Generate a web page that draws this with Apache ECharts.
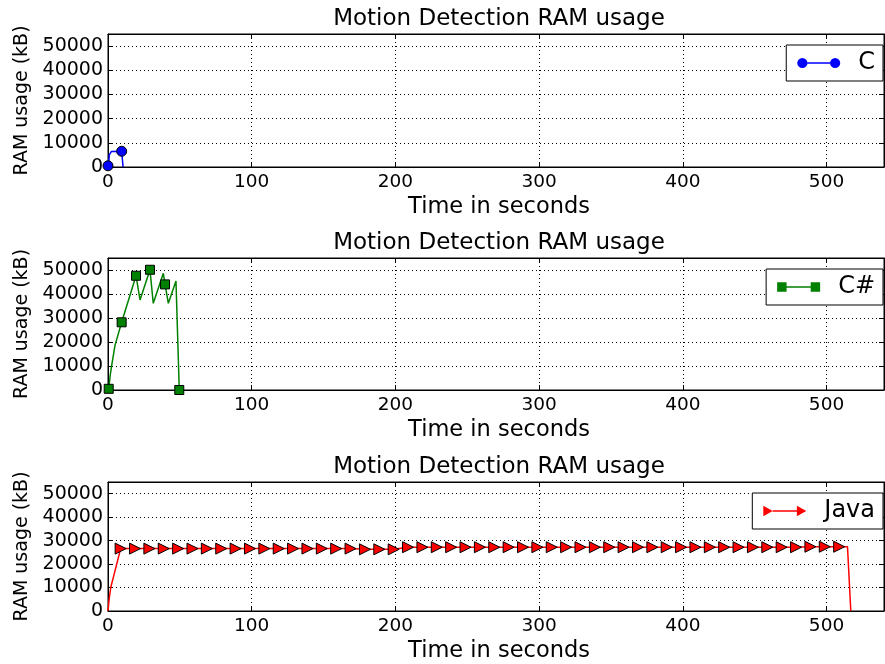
<!DOCTYPE html>
<html>
<head>
<meta charset="utf-8">
<script src="https://cdn.jsdelivr.net/npm/echarts@6/dist/echarts.min.js"></script>
<style>
html,body{margin:0;padding:0;background:#fff;}
#chart{width:885px;height:664px;}
</style>
</head>
<body>
<div id="chart"></div>
<script>
// ---- Data ----
const chartTitle = 'Motion Detection RAM usage';
const xLabel = 'Time in seconds';
const yLabel = 'RAM usage (kB)';

// C
const cTime = [0, 0.5, 0.9, 2.3, 9.5, 10.5];
const cRam  = [500, 1500, 5000, 6400, 6500, 0];
const cMarkTime = [0, 9.5];
const cMarkRam  = [500, 6500];

// C#
const csTime = [0.5, 1.5, 2.6, 4.9, 9.5, 19.5, 22.3, 29.2, 31.5, 38.5, 39.7, 42, 47.3, 49.6];
const csRam  = [500, 6000, 10400, 18700, 28200, 47600, 37500, 50100, 36100, 48600, 44000, 36100, 45400, 0];
const csMarkTime = [0.5, 9.5, 19.5, 29.2, 39.7, 49.6];
const csMarkRam  = [500, 28200, 47600, 50100, 44000, 0];

// Java
const javaRampTime = [0, 0.8, 1.9, 4.2];
const javaRampRam  = [0, 5000, 10000, 15500];
const javaMarkTime = [8.8, 18.8, 28.8, 38.8, 48.8, 58.8, 68.8, 78.8, 88.8, 98.8,
  108.8, 118.8, 128.8, 138.8, 148.8, 158.8, 168.8, 178.8, 188.8, 198.8,
  208.8, 218.8, 228.8, 238.8, 248.8, 258.8, 268.8, 278.8, 288.8, 298.8,
  308.8, 318.8, 328.8, 338.8, 348.8, 358.8, 368.8, 378.8, 388.8, 398.8,
  408.8, 418.8, 428.8, 438.8, 448.8, 458.8, 468.8, 478.8, 488.8, 498.8, 508.8];
const javaMarkRam = [26600, 26600, 26600, 26600, 26600, 26600, 26600, 26600, 26600, 26600,
  26600, 26600, 26600, 26600, 26600, 26600, 26600, 26300, 26300, 26300,
  27200, 27200, 27200, 27200, 27200, 27200, 27200, 27200, 27200, 27200,
  27200, 27200, 27200, 27200, 27200, 27200, 27200, 27200, 27200, 27200,
  27200, 27200, 27200, 27200, 27200, 27200, 27200, 27200, 27400, 27400, 27400];
const javaTailTime = [514.6, 516.9];
const javaTailRam  = [27400, 0];

const xMin = 0, xMax = 540, xStep = 100;
const yMin = 0, yMax = 55000, yStep = 10000;

// ---- helpers ----
function pairs(t, v) { return t.map((x, i) => [x, v[i]]); }
const FONT = 'DejaVu Sans';

const panels = [
  { name: 'C', color: '#0000ff', symbol: 'circle', size: 10, rotate: 0,
    line: pairs(cTime, cRam), marks: pairs(cMarkTime, cMarkRam),
    icon: 'path://M1,6 A5,5 0 1,1 11,6 A5,5 0 1,1 1,6 Z M11,5.3 L33,5.3 L33,6.7 L11,6.7 Z M33,6 A5,5 0 1,1 43,6 A5,5 0 1,1 33,6 Z' },
  { name: 'C#', color: '#008000', symbol: 'rect', size: 9, rotate: 0,
    line: pairs(csTime, csRam), marks: pairs(csMarkTime, csMarkRam),
    icon: 'path://M0.5,0.5 L9.5,0.5 L9.5,9.5 L0.5,9.5 Z M9.5,4.4 L32.5,4.4 L32.5,5.6 L9.5,5.6 Z M32.5,0.5 L41.5,0.5 L41.5,9.5 L32.5,9.5 Z' },
  { name: 'Java', color: '#ff0000', symbol: 'triangle', size: 11, rotate: -90,
    line: pairs(javaRampTime.concat(javaMarkTime, javaTailTime), javaRampRam.concat(javaMarkRam, javaTailRam)),
    marks: pairs(javaMarkTime, javaMarkRam),
    icon: 'path://M1,0 L10,5 L1,10 Z M10,4.4 L33,4.4 L33,5.6 L10,5.6 Z M33,0 L42,5 L33,10 Z' }
];

const tops = [34, 258, 482];
const heights = [133, 132, 132];

const grid = [], xAxis = [], yAxis = [], series = [], legend = [];
const tickStyle = { show: true, inside: true, length: 5, lineStyle: { color: '#000', width: 1 } };
const lineAx = { show: true, onZero: false, lineStyle: { color: '#000', width: 1 } };
const split = { show: true, lineStyle: { color: '#000', width: 1, type: [1, 3] } };
const plain = v => String(v);

panels.forEach((p, i) => {
  grid.push({ left: 108, right: 1, top: tops[i], height: heights[i], containLabel: false,
    show: true, borderColor: '#000', borderWidth: 1, backgroundColor: '#fff' });
  // bottom x axis
  xAxis.push({ type: 'value', gridIndex: i, min: xMin, max: xMax, interval: xStep, position: 'bottom',
    axisLine: lineAx, axisTick: tickStyle, splitLine: split,
    axisLabel: { show: true, showMaxLabel: false, color: '#000', fontSize: 18.5, fontFamily: FONT, margin: 6, formatter: plain },
    name: xLabel, nameLocation: 'middle', nameGap: 29,
    nameTextStyle: { color: '#000', fontSize: 22.5, fontFamily: FONT, padding: [0, 0, 0, 6] } });
  // top x axis (ticks + title)
  xAxis.push({ type: 'value', gridIndex: i, min: xMin, max: xMax, interval: xStep, position: 'top',
    axisLine: lineAx, axisTick: tickStyle, splitLine: { show: false }, axisLabel: { show: false },
    name: chartTitle, nameLocation: 'middle', nameGap: 3,
    nameTextStyle: { color: '#000', fontSize: 23, fontFamily: FONT, padding: [0, 0, 0, 6] } });
  // left y axis
  yAxis.push({ type: 'value', gridIndex: i, min: yMin, max: yMax, interval: yStep, position: 'left',
    axisLine: lineAx, axisTick: tickStyle, splitLine: split,
    axisLabel: { show: true, showMaxLabel: false, color: '#000', fontSize: 19, fontFamily: FONT, margin: 5, formatter: plain },
    name: yLabel, nameLocation: 'middle', nameGap: 74,
    nameTextStyle: { color: '#000', fontSize: 19, fontFamily: FONT } });
  // right y axis (ticks only)
  yAxis.push({ type: 'value', gridIndex: i, min: yMin, max: yMax, interval: yStep, position: 'right',
    axisLine: lineAx, axisTick: tickStyle, splitLine: { show: false }, axisLabel: { show: false } });

  series.push({ name: p.name, type: 'line', xAxisIndex: 2 * i, yAxisIndex: 2 * i,
    data: p.line, showSymbol: false, symbol: 'none', smooth: false, clip: true,
    lineStyle: { color: p.color, width: 1.5 }, itemStyle: { color: p.color },
    emphasis: { disabled: true }, animation: false, z: 3 });
  series.push({ name: p.name, type: 'scatter', xAxisIndex: 2 * i, yAxisIndex: 2 * i,
    data: p.marks, symbol: p.symbol, symbolSize: p.size, symbolRotate: p.rotate, clip: true,
    itemStyle: { color: p.color, borderColor: '#000', borderWidth: 1, opacity: 1 },
    emphasis: { disabled: true }, animation: false, z: 4 });

  legend.push({ right: 2, top: tops[i] + 11, orient: 'vertical',
    data: [{ name: p.name, icon: p.icon }],
    itemWidth: 43, itemHeight: 11, selectedMode: false,
    padding: [6, 8, 6, 11], borderColor: '#000', borderWidth: 1, backgroundColor: '#fff', borderRadius: 0,
    itemStyle: { color: p.color, borderWidth: 0 },
    textStyle: { color: '#000', fontSize: 24, fontFamily: FONT, padding: [0, 0, 0, 13] } });
});

const chart = echarts.init(document.getElementById('chart'), null, { renderer: 'canvas' });
chart.setOption({
  animation: false,
  backgroundColor: '#fff',
  textStyle: { fontFamily: FONT },
  grid, xAxis, yAxis, series, legend,
  tooltip: { show: false }
});
</script>
</body>
</html>
